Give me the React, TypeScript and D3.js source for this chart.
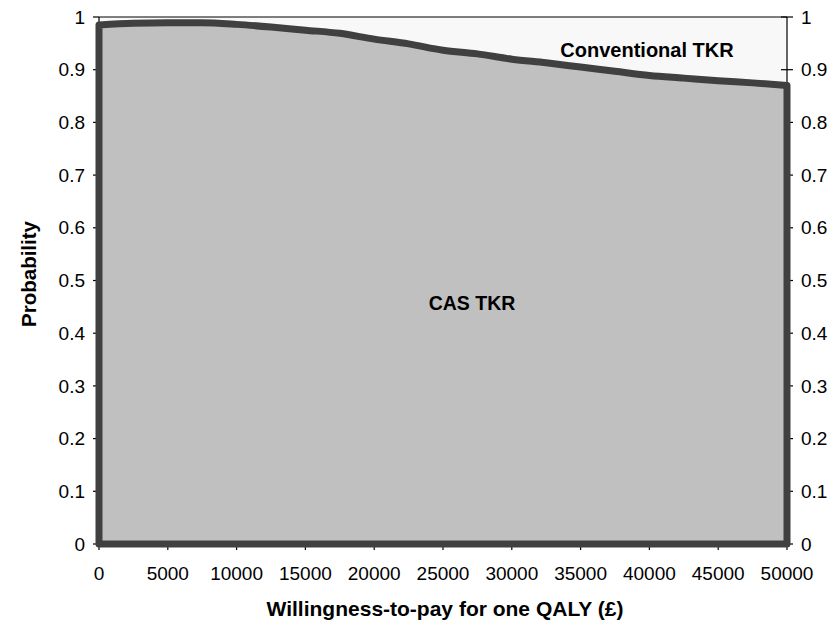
import React, { useEffect, useRef } from 'react';
import * as d3 from 'd3';

// willingness-to-pay (£) and probability CAS TKR is cost-effective
const wtp = [0, 2500, 5000, 7500, 10000, 12500, 15000, 17500, 20000, 22500, 25000, 27500, 30000, 32500, 35000, 37500, 40000, 42500, 45000, 47500, 50000];
const probCas = [0.985, 0.988, 0.989, 0.989, 0.986, 0.981, 0.975, 0.969, 0.958, 0.949, 0.937, 0.93, 0.92, 0.913, 0.905, 0.897, 0.889, 0.884, 0.879, 0.875, 0.87];

const xTicks = [0, 5000, 10000, 15000, 20000, 25000, 30000, 35000, 40000, 45000, 50000];
const yTicks = [0, 0.1, 0.2, 0.3, 0.4, 0.5, 0.6, 0.7, 0.8, 0.9, 1];

const App: React.FC = () => {
  const svgRef = useRef<SVGSVGElement>(null);

  useEffect(() => {
    if (!svgRef.current) return;
    const svg = d3.select(svgRef.current);
    svg.selectAll('*').remove();

    const width = 833;
    const height = 624;
    const left = 99;
    const right = 787;
    const top = 17;
    const bottom = 544;
    const font = 'Arial, "Liberation Sans", Helvetica, sans-serif';

    const x = d3.scaleLinear().domain([0, 50000]).range([left, right]);
    const y = d3.scaleLinear().domain([0, 1]).range([bottom, top]);

    svg.attr('width', width).attr('height', height).attr('viewBox', `0 0 ${width} ${height}`);

    // plot background (conventional region)
    svg.append('rect')
      .attr('x', left).attr('y', top)
      .attr('width', right - left).attr('height', bottom - top)
      .attr('fill', '#f8f8f8');

    const data = wtp.map((w, i) => ({ w, p: probCas[i] }));

    const area = d3.area<{ w: number; p: number }>()
      .x((d) => x(d.w))
      .y0(y(0))
      .y1((d) => y(d.p))
      .curve(d3.curveMonotoneX);

    // frame lines
    const frame = svg.append('g').attr('stroke', '#000').attr('stroke-width', 1.2);
    frame.append('line').attr('x1', left).attr('x2', right).attr('y1', top).attr('y2', top);
    frame.append('line').attr('x1', left).attr('x2', left).attr('y1', top).attr('y2', bottom);
    frame.append('line').attr('x1', right).attr('x2', right).attr('y1', top).attr('y2', bottom);
    frame.append('line').attr('x1', left).attr('x2', right).attr('y1', bottom).attr('y2', bottom);

    // ticks
    yTicks.forEach((t) => {
      frame.append('line').attr('x1', left - 6).attr('x2', left).attr('y1', y(t)).attr('y2', y(t));
      frame.append('line').attr('x1', right - 6).attr('x2', right + 6).attr('y1', y(t)).attr('y2', y(t));
    });
    xTicks.forEach((t) => {
      frame.append('line').attr('x1', x(t)).attr('x2', x(t)).attr('y1', bottom).attr('y2', bottom + 6);
    });

    svg.append('path')
      .datum(data)
      .attr('d', area)
      .attr('fill', '#c0c0c0')
      .attr('stroke', '#404040')
      .attr('stroke-width', 7)
      .attr('stroke-linejoin', 'round');

    // tick labels
    const labels = svg.append('g').attr('font-family', font).attr('font-size', 19).attr('fill', '#000');
    yTicks.forEach((t) => {
      const s = d3.format('~g')(t);
      labels.append('text').attr('x', left - 14).attr('y', y(t)).attr('dy', '0.35em')
        .attr('text-anchor', 'end').text(s);
      labels.append('text').attr('x', right + 14).attr('y', y(t)).attr('dy', '0.35em')
        .attr('text-anchor', 'start').text(s);
    });
    xTicks.forEach((t) => {
      labels.append('text').attr('x', x(t)).attr('y', 580)
        .attr('text-anchor', 'middle').text(String(t));
    });

    // axis titles
    svg.append('text')
      .attr('x', 445).attr('y', 616)
      .attr('text-anchor', 'middle')
      .attr('font-family', font).attr('font-size', 21).attr('font-weight', 700)
      .text('Willingness-to-pay for one QALY (£)');

    svg.append('text')
      .attr('transform', 'translate(36, 274) rotate(-90)')
      .attr('text-anchor', 'middle')
      .attr('font-family', font).attr('font-size', 20.5).attr('font-weight', 700)
      .text('Probability');

    // region labels
    svg.append('text')
      .attr('x', 472).attr('y', 310)
      .attr('text-anchor', 'middle')
      .attr('font-family', font).attr('font-size', 19.5).attr('font-weight', 700)
      .text('CAS TKR');

    svg.append('text')
      .attr('x', 647).attr('y', 57)
      .attr('text-anchor', 'middle')
      .attr('font-family', font).attr('font-size', 20).attr('font-weight', 700)
      .text('Conventional TKR');
  }, []);

  return (
    <svg ref={svgRef} style={{ position: 'absolute', left: 0, top: 0, display: 'block' }} />
  );
};

export default App;
